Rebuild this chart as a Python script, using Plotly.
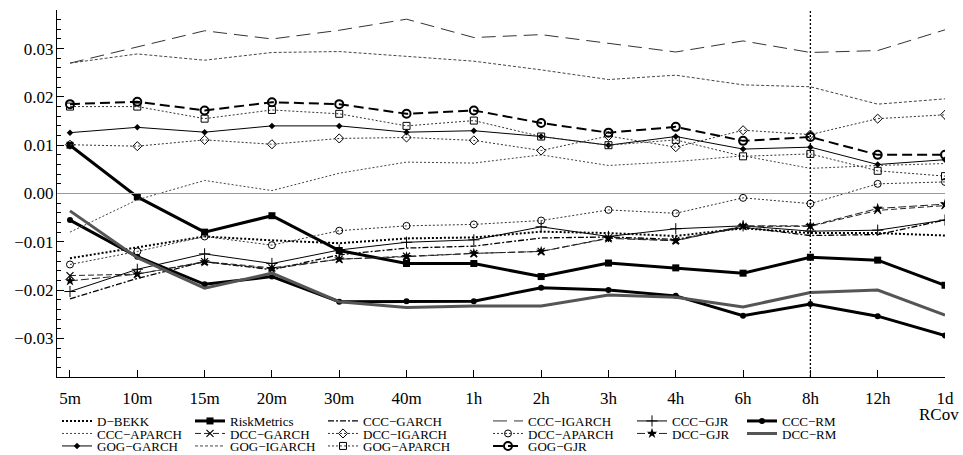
import plotly.graph_objects as go

# ---------------- data ----------------
CATS = ["5m", "10m", "15m", "20m", "30m", "40m", "1h", "2h", "3h", "4h", "6h", "8h", "12h", "1d"]
MARK_CAT = "8h"

D_BEKK = [-0.0134, -0.0112, -0.0089, -0.0097, -0.0103, -0.0093, -0.0091, -0.0079, -0.0082, -0.0088, -0.0072, -0.0082, -0.0082, -0.0087]
RISKMETRICS = [0.0100, -0.0007, -0.0080, -0.0046, -0.0118, -0.0145, -0.0145, -0.0172, -0.0144, -0.0154, -0.0165, -0.0132, -0.0138, -0.0190]
CCC_GARCH = [-0.0218, -0.0176, -0.0141, -0.0158, -0.0127, -0.0113, -0.0109, -0.0092, -0.0090, -0.0095, -0.0070, -0.0087, -0.0085, -0.0055]
CCC_IGARCH = [0.0270, 0.0304, 0.0337, 0.0320, 0.0338, 0.0361, 0.0323, 0.0329, 0.0311, 0.0293, 0.0316, 0.0292, 0.0296, 0.0339]
CCC_GJR = [-0.0203, -0.0157, -0.0125, -0.0145, -0.0117, -0.0101, -0.0096, -0.0069, -0.0089, -0.0073, -0.0067, -0.0078, -0.0076, -0.0055]
CCC_RM = [-0.0055, -0.0131, -0.0188, -0.0172, -0.0224, -0.0223, -0.0223, -0.0195, -0.0200, -0.0212, -0.0253, -0.0229, -0.0254, -0.0294]
CCC_APARCH = [-0.0080, -0.0013, 0.0027, 0.0006, 0.0042, 0.0065, 0.0063, 0.0080, 0.0058, 0.0066, 0.0078, 0.0052, 0.0058, 0.0062]
DCC_GARCH = [-0.0170, -0.0167, -0.0141, -0.0154, -0.0136, -0.0130, -0.0124, -0.0120, -0.0092, -0.0097, -0.0068, -0.0068, -0.0035, -0.0025]
DCC_IGARCH = [0.0101, 0.0098, 0.0111, 0.0102, 0.0114, 0.0116, 0.0110, 0.0089, 0.0119, 0.0096, 0.0131, 0.0122, 0.0155, 0.0163]
DCC_APARCH = [-0.0147, -0.0120, -0.0089, -0.0107, -0.0077, -0.0067, -0.0064, -0.0056, -0.0034, -0.0041, -0.0009, -0.0021, 0.0020, 0.0024]
DCC_GJR = [-0.0181, -0.0167, -0.0142, -0.0156, -0.0136, -0.0131, -0.0124, -0.0120, -0.0093, -0.0098, -0.0067, -0.0067, -0.0031, -0.0022]
DCC_RM = [-0.0036, -0.0133, -0.0196, -0.0165, -0.0224, -0.0236, -0.0233, -0.0233, -0.0210, -0.0215, -0.0235, -0.0205, -0.0200, -0.0252]
GOG_GARCH = [0.0126, 0.0137, 0.0127, 0.0140, 0.0140, 0.0127, 0.0130, 0.0118, 0.0100, 0.0118, 0.0092, 0.0096, 0.0060, 0.0070]
GOG_IGARCH = [0.0270, 0.0289, 0.0276, 0.0292, 0.0294, 0.0284, 0.0274, 0.0256, 0.0236, 0.0245, 0.0225, 0.0221, 0.0185, 0.0196]
GOG_APARCH = [0.0180, 0.0180, 0.0155, 0.0173, 0.0165, 0.0140, 0.0151, 0.0118, 0.0100, 0.0111, 0.0077, 0.0082, 0.0047, 0.0036]
GOG_GJR = [0.0185, 0.0190, 0.0172, 0.0189, 0.0185, 0.0165, 0.0172, 0.0146, 0.0126, 0.0138, 0.0109, 0.0117, 0.0080, 0.0080]

X_TITLE = "RCov"

# legend order: rows of six
SERIES = [
    ("D\u2212BEKK", D_BEKK), ("RiskMetrics", RISKMETRICS), ("CCC\u2212GARCH", CCC_GARCH),
    ("CCC\u2212IGARCH", CCC_IGARCH), ("CCC\u2212GJR", CCC_GJR), ("CCC\u2212RM", CCC_RM),
    ("CCC\u2212APARCH", CCC_APARCH), ("DCC\u2212GARCH", DCC_GARCH), ("DCC\u2212IGARCH", DCC_IGARCH),
    ("DCC\u2212APARCH", DCC_APARCH), ("DCC\u2212GJR", DCC_GJR), ("DCC\u2212RM", DCC_RM),
    ("GOG\u2212GARCH", GOG_GARCH), ("GOG\u2212IGARCH", GOG_IGARCH), ("GOG\u2212APARCH", GOG_APARCH),
    ("GOG\u2212GJR", GOG_GJR),
]

# ---------------- styles ----------------
BLK = "#000000"
STYLES = {
    "D\u2212BEKK": dict(line=dict(color=BLK, width=2, dash="2px,2px"), mode="lines"),
    "RiskMetrics": dict(line=dict(color=BLK, width=3), mode="lines+markers",
                        marker=dict(symbol="square", size=7, color=BLK)),
    "CCC\u2212GARCH": dict(line=dict(color=BLK, width=1.3, dash="6px,2px,2px,2px"), mode="lines"),
    "CCC\u2212IGARCH": dict(line=dict(color="#333333", width=1, dash="14px,7px"), mode="lines"),
    "CCC\u2212GJR": dict(line=dict(color=BLK, width=1), mode="lines+markers",
                         marker=dict(symbol="cross-thin", size=8, line=dict(color=BLK, width=1))),
    "CCC\u2212RM": dict(line=dict(color=BLK, width=3), mode="lines+markers",
                        marker=dict(symbol="circle", size=6, color=BLK)),
    "CCC\u2212APARCH": dict(line=dict(color="#444444", width=1, dash="2px,2px"), mode="lines"),
    "DCC\u2212GARCH": dict(line=dict(color="#222222", width=1, dash="6px,3px"), mode="lines+markers",
                           marker=dict(symbol="x-thin", size=7, line=dict(color=BLK, width=1.2))),
    "DCC\u2212IGARCH": dict(line=dict(color="#333333", width=1, dash="2px,2px"), mode="lines+markers",
                            marker=dict(symbol="diamond-open", size=7, color=BLK, line=dict(width=1))),
    "DCC\u2212APARCH": dict(line=dict(color="#333333", width=1, dash="2px,2px"), mode="lines+markers",
                            marker=dict(symbol="circle-open", size=7, color=BLK, line=dict(width=1))),
    "DCC\u2212GJR": dict(line=dict(color="#222222", width=1, dash="8px,3px"), mode="lines+markers",
                         marker=dict(symbol="star", size=8, color=BLK)),
    "DCC\u2212RM": dict(line=dict(color="#555555", width=3), mode="lines"),
    "GOG\u2212GARCH": dict(line=dict(color=BLK, width=1), mode="lines+markers",
                           marker=dict(symbol="diamond", size=5, color=BLK)),
    "GOG\u2212IGARCH": dict(line=dict(color="#444444", width=1, dash="3px,2px"), mode="lines"),
    "GOG\u2212APARCH": dict(line=dict(color="#333333", width=1, dash="2px,2px"), mode="lines+markers",
                            marker=dict(symbol="square-open", size=7, color=BLK, line=dict(width=1))),
    "GOG\u2212GJR": dict(line=dict(color=BLK, width=2, dash="10px,5px"), mode="lines+markers",
                         marker=dict(symbol="circle-open", size=8, color=BLK, line=dict(width=2))),
}

# ---------------- geometry (pixels) ----------------
W, H = 963, 455
ML, MR, MT, MB = 57, 18, 10, 78
PW, PH = W - ML - MR, H - MT - MB
COL_TEXT_X = [97, 230, 363, 528, 672, 782]
ROW_Y = [421, 433.5, 446]
TEXT_OFF = 40
FONT = "'Liberation Serif', 'Times New Roman', Times, serif"

fig = go.Figure()
layout_legends = {}
for i, (name, vals) in enumerate(SERIES):
    key = "legend" if i == 0 else f"legend{i + 1}"
    st = STYLES[name]
    fig.add_trace(go.Scatter(x=CATS, y=vals, name=name, legend=key, **st))
    r, c = divmod(i, 6)
    lx = (COL_TEXT_X[c] - TEXT_OFF - ML) / PW
    ly = (MT + PH - ROW_Y[r]) / PH
    layout_legends[key] = dict(
        x=lx, y=ly, xanchor="left", yanchor="middle",
        bgcolor="rgba(0,0,0,0)", borderwidth=0,
        font=dict(family=FONT, size=13, color=BLK),
        itemwidth=30, tracegroupgap=0,
    )

fig.update_layout(**layout_legends)

# reference lines
fig.add_hline(y=0, line=dict(color="#9a9a9a", width=1))
fig.add_vline(x=CATS.index(MARK_CAT), line=dict(color=BLK, width=1.3, dash="2px,2px"))

fig.add_annotation(text=X_TITLE, xref="paper", yref="paper", x=(961 - ML) / PW, y=(MT + PH - 414) / PH,
                   xanchor="right", yanchor="middle", showarrow=False,
                   font=dict(family=FONT, size=17, color=BLK))

fig.update_layout(
    width=W, height=H,
    margin=dict(l=ML, r=MR, t=MT, b=MB, pad=0, autoexpand=False),
    paper_bgcolor="white", plot_bgcolor="white",
    showlegend=True,
    font=dict(family=FONT, size=17, color=BLK),
    xaxis=dict(
        type="category", range=[-0.193, len(CATS) - 1 + 0.0],
        showline=True, linecolor=BLK, linewidth=1,
        ticks="inside", ticklen=7, tickcolor=BLK, tickwidth=1,
        showgrid=False, zeroline=False, ticklabelstandoff=6,
        tickfont=dict(family=FONT, size=17, color=BLK),
    ),
    yaxis=dict(
        range=[-0.038, 0.038], dtick=0.01, tick0=0, tickformat=".2f",
        showline=True, linecolor=BLK, linewidth=1,
        ticks="inside", ticklen=7, tickcolor=BLK, tickwidth=1,
        minor=dict(dtick=0.002, ticks="inside", ticklen=4, tickcolor=BLK, tickwidth=1, showgrid=False),
        showgrid=False, zeroline=False, ticklabelstandoff=-1,
        tickfont=dict(family=FONT, size=17, color=BLK),
    ),
)

fig.write_html("out.html")
